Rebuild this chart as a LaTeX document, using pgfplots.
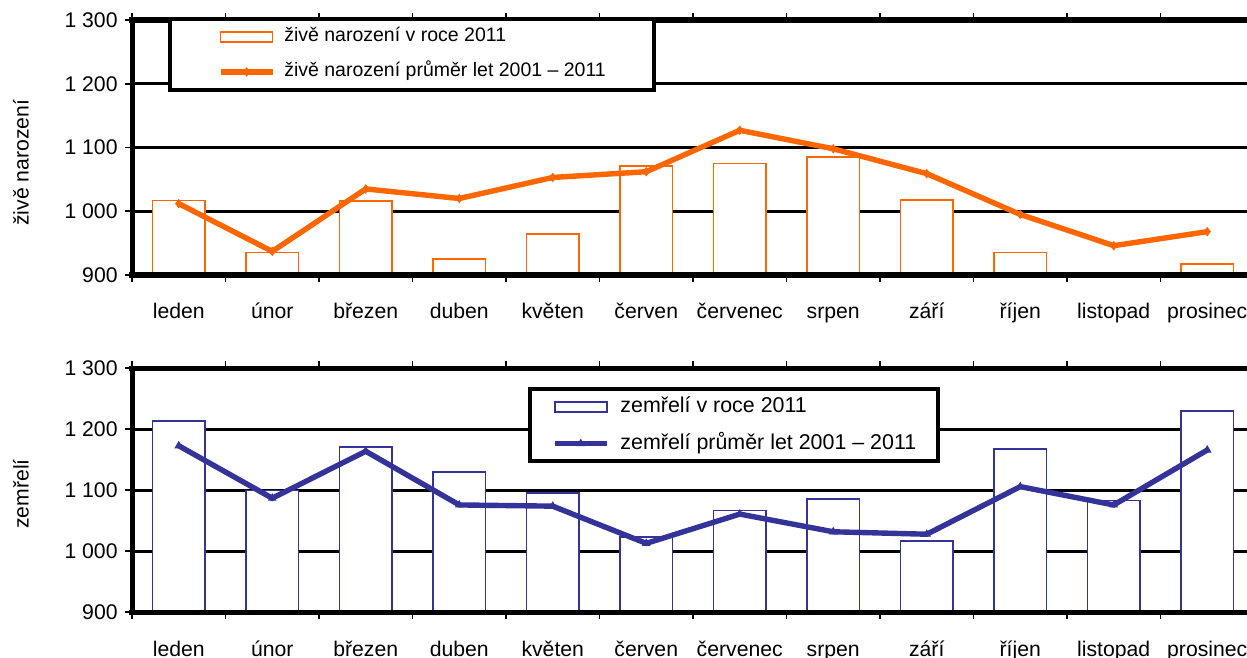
\documentclass[border=0pt]{standalone}
\usepackage{fontspec}
\setmainfont{Liberation Sans}
\usepackage{pgfplots}
\pgfplotsset{compat=1.18}
\definecolor{oranz}{HTML}{FF6600}
\definecolor{modra}{HTML}{333399}
\newcommand{\tf}{\fontsize{10.6pt}{12.7pt}\selectfont}
\pgfplotsset{
  mystyle/.style={
    scale only axis, width=561pt,
    xmin=-0.5, xmax=11.5, ymin=900, ymax=1300,
    ytick={900,1000,1100,1200,1300},
    yticklabels={900,1 000,1 100,1 200,1 300},
    xtick={0,...,11},
    xticklabels={leden,únor,březen,duben,květen,červen,červenec,srpen,září,říjen,listopad,prosinec},
    major x tick style={draw=none},
    minor xtick={-0.5,0.5,...,11.5},
    minor tick length=3.5pt,
    major tick length=3.5pt,
    tick align=outside,
    tick style={black, line width=0.9pt},
    ymajorgrids, grid style={black, line width=1.4pt},
    axis line style={line width=2.5pt},
    font=\tf,
    yticklabel style={font=\tf, inner sep=0pt, xshift=-3.5pt, anchor=east},
    xticklabel style={font=\tf, inner sep=0pt, anchor=base, yshift=-18.5pt},
    legend cell align=left,
    clip=false,
  },
  barleg/.style={legend image code/.code={\draw[##1] (0pt,-2.5pt) rectangle (26pt,2.5pt);}},
  lineleg/.style={legend image code/.code={\draw[mark repeat=2,mark phase=2,##1] plot coordinates {(0pt,0pt) (13pt,0pt) (26pt,0pt)};}},
}
\begin{document}
\begin{tikzpicture}
\begin{axis}[mystyle, height=127.5pt, at={(66pt,191.5pt)}, anchor=south west,
  ylabel={živě narození},
  ylabel style={font=\tf, at={(axis description cs:-0.099,0.44)}, anchor=center},
  legend style={at={(axis description cs:0.032,1.012)}, anchor=north west,
    draw=black, line width=2pt, fill=white, inner xsep=24pt, inner ysep=4.5pt,
    row sep=8.5pt, font=\fontsize{9.75pt}{11.7pt}\selectfont,
    nodes={inner sep=0pt, text height=7pt, text depth=2pt},
    /tikz/every odd column/.append style={column sep=4.5pt}},
]
\addplot[ybar, bar width=0.56, draw=oranz, fill=white, line width=0.8pt, barleg]
  coordinates {(0,1017) (1,935) (2,1016) (3,925) (4,964) (5,1071) (6,1075) (7,1085) (8,1018) (9,935) (10,901) (11,917)};
\addlegendentry{živě narození v roce 2011}
\addplot[oranz, line width=2.7pt, mark=diamond*, mark size=2pt, mark options={line width=0.5pt}, lineleg]
  coordinates {(0,1012) (1,937) (2,1035) (3,1020) (4,1053) (5,1062) (6,1127) (7,1098) (8,1059) (9,995) (10,946) (11,968)};
\addlegendentry{živě narození průměr let 2001 – 2011}
\draw[line width=2.6pt, line cap=rect] (rel axis cs:0,0) -- (rel axis cs:1,0);
\draw[line width=2.4pt, line cap=rect] (rel axis cs:0,0) -- (rel axis cs:0,1);
\draw[line width=2.8pt, line cap=rect] (rel axis cs:0,1) -- (rel axis cs:1,1);
\end{axis}
\begin{axis}[mystyle, height=122pt, at={(66pt,22.85pt)}, anchor=south west,
  ylabel={zemřelí},
  ylabel style={font=\tf, at={(axis description cs:-0.099,0.485)}, anchor=center},
  legend style={at={(axis description cs:0.353,0.923)}, anchor=north west,
    draw=black, line width=2pt, fill=white, inner xsep=11pt, inner ysep=4pt,
    row sep=8.4pt, font=\fontsize{10.7pt}{12.8pt}\selectfont,
    nodes={inner sep=0pt, text height=7.7pt, text depth=2.2pt},
    /tikz/every odd column/.append style={column sep=5.5pt}},
]
\addplot[ybar, bar width=0.56, draw=modra, fill=white, line width=0.8pt, barleg]
  coordinates {(0,1214) (1,1100) (2,1171) (3,1130) (4,1096) (5,1023) (6,1067) (7,1086) (8,1017) (9,1168) (10,1083) (11,1230)};
\addlegendentry{zemřelí v roce 2011}
\addplot[modra, line width=2.7pt, mark=triangle*, mark size=2pt, mark options={line width=0.5pt}, lineleg]
  coordinates {(0,1173) (1,1087) (2,1164) (3,1076) (4,1074) (5,1013) (6,1061) (7,1032) (8,1028) (9,1106) (10,1076) (11,1166)};
\addlegendentry{zemřelí průměr let 2001 – 2011}
\draw[line width=2.6pt, line cap=rect] (rel axis cs:0,0) -- (rel axis cs:1,0);
\draw[line width=2.4pt, line cap=rect] (rel axis cs:0,0) -- (rel axis cs:0,1);
\draw[line width=2.8pt, line cap=rect] (rel axis cs:0,1) -- (rel axis cs:1,1);
\end{axis}
\pgfresetboundingbox
\path[use as bounding box] (0,0) rectangle (623.5pt,329pt);
\end{tikzpicture}
\end{document}
